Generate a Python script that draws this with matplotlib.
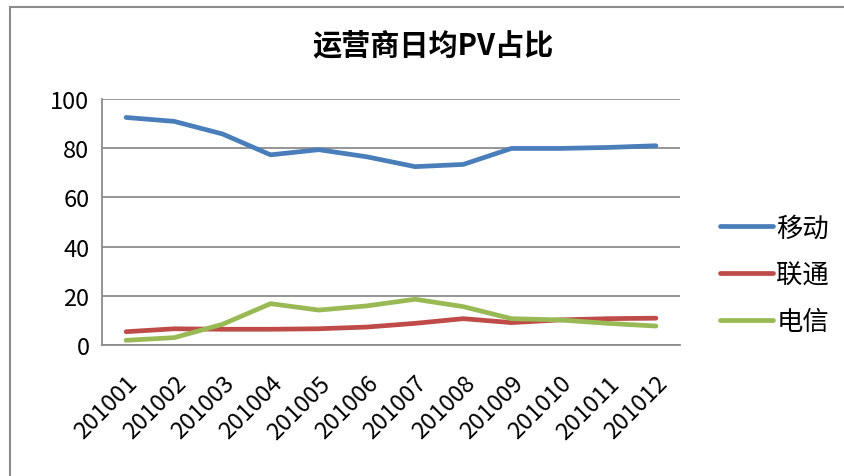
import matplotlib
matplotlib.use("Agg")
import matplotlib.pyplot as plt
from matplotlib.patches import Rectangle

plt.rcParams['font.family'] = ['Noto Sans CJK SC', 'DejaVu Sans']

months = ["201001", "201002", "201003", "201004", "201005", "201006",
          "201007", "201008", "201009", "201010", "201011", "201012"]
yidong = [92.5, 90.9, 85.8, 77.3, 79.4, 76.5, 72.5, 73.4, 79.9, 79.9, 80.3, 81.0]
liantong = [5.4, 6.6, 6.4, 6.4, 6.6, 7.3, 8.8, 10.7, 9.1, 10.2, 10.7, 10.9]
dianxin = [1.9, 3.0, 8.4, 16.8, 14.2, 15.9, 18.6, 15.6, 10.7, 10.2, 8.8, 7.7]

fig = plt.figure(figsize=(8.44, 4.77), dpi=100)
# outer chart frame
fig.patches.append(Rectangle((10/844, -0.1), 1.0, 1 - 8/477 + 0.1,
                             transform=fig.transFigure, fill=False,
                             edgecolor="#8c8c8c", linewidth=1.5))

ax = fig.add_axes([102/844, 1 - 346/477, 578/844, 246/477])
x = range(len(months))
ax.plot(x, yidong, color="#4A7EBB", linewidth=3.4, label="移动", solid_capstyle="round")
ax.plot(x, liantong, color="#BE4B48", linewidth=3.4, label="联通", solid_capstyle="round")
ax.plot(x, dianxin, color="#98B954", linewidth=3.4, label="电信", solid_capstyle="round")

ax.set_xlim(-0.5, len(months) - 0.5)
ax.set_ylim(0, 100)
ax.set_yticks([0, 20, 40, 60, 80, 100])
ax.set_xticks(list(x))
ax.set_xticklabels(months, rotation=45, ha="right", rotation_mode="anchor")
ax.tick_params(axis="both", length=0, labelsize=17, colors="black")
ax.tick_params(axis="x", pad=19)
ax.tick_params(axis="y", pad=9)
ax.grid(axis="y", color="#8c8c8c", linewidth=1.3)
ax.set_axisbelow(True)
for s in ["top", "right"]:
    ax.spines[s].set_visible(False)
for s in ["left", "bottom"]:
    ax.spines[s].set_color("#8c8c8c")
    ax.spines[s].set_linewidth(1.3)

fig.text(433/844, 1 - 45/477, "运营商日均PV占比", ha="center", va="center",
         fontsize=21, fontweight="bold")

fig.legend(loc="center left", bbox_to_anchor=(696/844, 1 - 276/477),
           frameon=False, fontsize=19, handlelength=2.0, labelspacing=0.75,
           handletextpad=0.15)

fig.savefig("out.png", dpi=100)
